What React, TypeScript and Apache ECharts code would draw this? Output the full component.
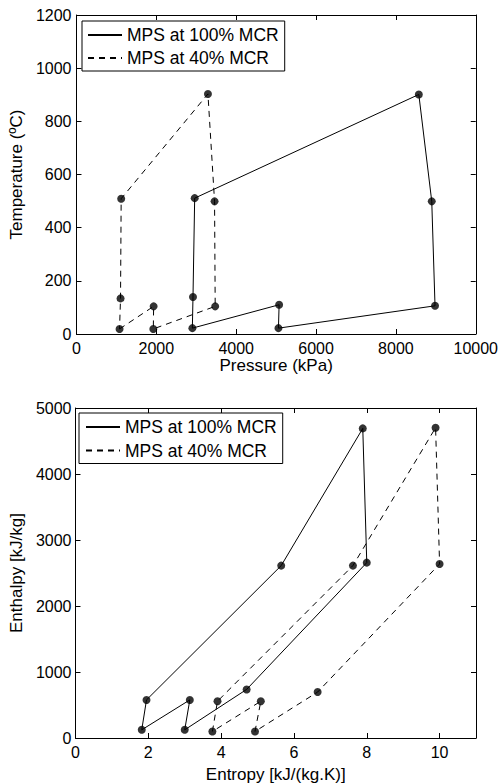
import React, { useEffect, useRef } from "react";
import * as echarts from "echarts";

// Top chart: Pressure (kPa) vs Temperature (ºC)
const pressure100 = [2902, 5075, 5058, 8980, 8898, 8574, 2960, 2918, 2902];
const temp100 = [22, 110, 22, 106, 499, 901, 511, 139, 22];
const pressure40 = [1078, 1932, 1924, 3474, 3458, 3292, 1119, 1103, 1078];
const temp40 = [19, 104, 19, 104, 499, 903, 509, 134, 19];

// Bottom chart: Entropy vs Enthalpy
const entropy100 = [1.82, 1.95, 5.65, 7.89, 8.0, 4.7, 3.0, 3.14, 1.82];
const enthalpy100 = [124, 577, 2612, 4691, 2657, 736, 124, 577, 124];
const entropy40 = [3.76, 3.9, 7.62, 9.89, 10.0, 6.65, 4.93, 5.09, 3.76];
const enthalpy40 = [99, 557, 2612, 4701, 2636, 696, 99, 557, 99];

const seriesNames = ["MPS at 100% MCR", "MPS at 40% MCR"];

const FONT = "'Liberation Sans', Arial, sans-serif";

const pairs = (xs: number[], ys: number[]) => xs.map((x, i) => [x, ys[i]]);
// markers on each distinct vertex (last point closes the loop)
const markerPairs = (xs: number[], ys: number[]) => pairs(xs, ys).slice(0, xs.length - 1);

function makeAxis(opts: any, mirror: boolean, labelMargin: number) {
  const { showMaxLabel, ...rest } = opts;
  return {
    type: "value",
    ...rest,
    axisLine: { show: true, onZero: false, lineStyle: { color: "#000", width: 1 } },
    axisTick: { show: true, inside: true, length: 5, lineStyle: { color: "#000", width: 1 } },
    axisLabel: {
      show: !mirror,
      color: "#000",
      fontSize: 16,
      fontFamily: FONT,
      margin: labelMargin,
      showMaxLabel: showMaxLabel === undefined ? true : showMaxLabel,
      formatter: (v: number) => String(v),
    },
    splitLine: { show: false },
    name: mirror ? "" : rest.name,
  };
}

const legendBase = {
  data: seriesNames,
  orient: "vertical",
  itemWidth: 34,
  itemHeight: 14,
  itemTextGap: 3,
  borderColor: "#000",
  borderWidth: 1,
  backgroundColor: "#fff",
  itemStyle: { color: "rgba(0,0,0,0)", borderColor: "rgba(0,0,0,0)", borderWidth: 0 },
  textStyle: { color: "#000", fontSize: 17.5, fontFamily: FONT, lineHeight: 18 },
  selectedMode: false,
};

export default function App() {
  const ref = useRef<HTMLDivElement>(null);

  useEffect(() => {
    if (!ref.current) return;
    const chart = echarts.init(ref.current, undefined, { renderer: "svg" });

    const nameStyle = { color: "#000", fontSize: 17, fontFamily: FONT };
    const dash = [6, 5];
    const markerSize = 8;

    const option: any = {
      animation: false,
      backgroundColor: "#fff",
      grid: [
        { left: 76, top: 15, width: 402, height: 319, containLabel: false },
        { left: 72.7, top: 408, width: 403.3, height: 335, containLabel: false },
      ],
      xAxis: [
        makeAxis(
          {
            gridIndex: 0, min: 0, max: 10000, interval: 2000, position: "bottom",
            name: "Pressure (kPa)", nameLocation: "middle", nameGap: 23, nameTextStyle: nameStyle,
          },
          false, 6
        ),
        makeAxis({ gridIndex: 0, min: 0, max: 10000, interval: 2000, position: "top" }, true, 6),
        makeAxis(
          {
            gridIndex: 1, min: 0, max: 11, interval: 2, position: "bottom", showMaxLabel: false,
            name: "Entropy [kJ/(kg.K)]", nameLocation: "middle", nameGap: 28, nameTextStyle: nameStyle,
          },
          false, 6
        ),
        makeAxis({ gridIndex: 1, min: 0, max: 11, interval: 2, position: "top" }, true, 6),
      ],
      yAxis: [
        makeAxis(
          {
            gridIndex: 0, min: 0, max: 1200, interval: 200, position: "left",
            name: "Temperature (ºC)", nameLocation: "middle", nameGap: 47, nameTextStyle: nameStyle,
          },
          false, 5
        ),
        makeAxis({ gridIndex: 0, min: 0, max: 1200, interval: 200, position: "right" }, true, 5),
        makeAxis(
          {
            gridIndex: 1, min: 0, max: 5000, interval: 1000, position: "left",
            name: "Enthalpy [kJ/kg]", nameLocation: "middle", nameGap: 48, nameTextStyle: nameStyle,
          },
          false, 4
        ),
        makeAxis({ gridIndex: 1, min: 0, max: 5000, interval: 1000, position: "right" }, true, 4),
      ],
      legend: [
        { ...legendBase, left: 82, top: 21, itemGap: 5, padding: [5, 6, 4, 5] },
        { ...legendBase, left: 79, top: 413, itemGap: 5.5, padding: [5, 6, 4, 6] },
      ],
      series: [
        {
          name: seriesNames[0], type: "line", xAxisIndex: 0, yAxisIndex: 0,
          data: pairs(pressure100, temp100), symbol: "none", showSymbol: false,
          lineStyle: { color: "#000", width: 1, type: "solid" }, itemStyle: { color: "#000" },
        },
        {
          name: seriesNames[1], type: "line", xAxisIndex: 0, yAxisIndex: 0,
          data: pairs(pressure40, temp40), symbol: "none", showSymbol: false,
          lineStyle: { color: "#000", width: 1, type: dash }, itemStyle: { color: "#000" },
        },
        {
          name: "pts-top-100", type: "scatter", xAxisIndex: 0, yAxisIndex: 0,
          data: markerPairs(pressure100, temp100), symbol: "circle", symbolSize: markerSize,
          itemStyle: { color: "#000" },
        },
        {
          name: "pts-top-40", type: "scatter", xAxisIndex: 0, yAxisIndex: 0,
          data: markerPairs(pressure40, temp40), symbol: "circle", symbolSize: markerSize,
          itemStyle: { color: "#000" },
        },
        {
          name: seriesNames[0], type: "line", xAxisIndex: 2, yAxisIndex: 2,
          data: pairs(entropy100, enthalpy100), symbol: "none", showSymbol: false,
          lineStyle: { color: "#000", width: 1, type: "solid" }, itemStyle: { color: "#000" },
        },
        {
          name: seriesNames[1], type: "line", xAxisIndex: 2, yAxisIndex: 2,
          data: pairs(entropy40, enthalpy40), symbol: "none", showSymbol: false,
          lineStyle: { color: "#000", width: 1, type: dash }, itemStyle: { color: "#000" },
        },
        {
          name: "pts-bot-100", type: "scatter", xAxisIndex: 2, yAxisIndex: 2,
          data: markerPairs(entropy100, enthalpy100), symbol: "circle", symbolSize: markerSize,
          itemStyle: { color: "#000" },
        },
        {
          name: "pts-bot-40", type: "scatter", xAxisIndex: 2, yAxisIndex: 2,
          data: markerPairs(entropy40, enthalpy40), symbol: "circle", symbolSize: markerSize,
          itemStyle: { color: "#000" },
        },
      ],
    };

    chart.setOption(option);
    return () => chart.dispose();
  }, []);

  return (
    <div
      ref={ref}
      style={{ position: "fixed", left: 0, top: 0, width: 501, height: 784, background: "#fff" }}
    />
  );
}
